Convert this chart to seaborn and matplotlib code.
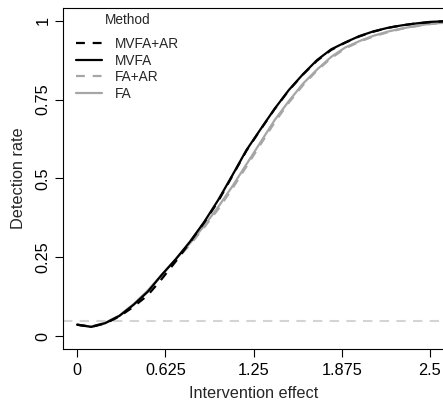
import numpy as np
import pandas as pd
import matplotlib
matplotlib.use("Agg")
import matplotlib.pyplot as plt
import seaborn as sns
from matplotlib.lines import Line2D

# ---- data ----
effect = [0.0, 0.1, 0.2, 0.3, 0.4, 0.5, 0.6, 0.7, 0.8, 0.9, 1.0, 1.1, 1.2, 1.3,
          1.4, 1.5, 1.6, 1.7, 1.8, 1.9, 2.0, 2.1, 2.2, 2.3, 2.4, 2.5, 2.6]
mvfa_ar = [0.037, 0.030, 0.041, 0.063, 0.094, 0.130, 0.182, 0.238, 0.298, 0.360,
           0.428, 0.508, 0.588, 0.655, 0.720, 0.779, 0.829, 0.873, 0.907, 0.930,
           0.950, 0.965, 0.977, 0.985, 0.991, 0.995, 0.998]
mvfa = [0.037, 0.030, 0.042, 0.065, 0.100, 0.141, 0.195, 0.245, 0.300, 0.362,
        0.432, 0.510, 0.590, 0.656, 0.721, 0.780, 0.830, 0.875, 0.909, 0.931,
        0.951, 0.966, 0.977, 0.985, 0.991, 0.996, 0.998]
fa_ar = [0.037, 0.031, 0.043, 0.066, 0.101, 0.143, 0.193, 0.241, 0.290, 0.345,
         0.403, 0.468, 0.538, 0.608, 0.678, 0.740, 0.795, 0.842, 0.881, 0.912,
         0.933, 0.950, 0.963, 0.974, 0.982, 0.989, 0.993]
fa = [0.037, 0.031, 0.043, 0.066, 0.102, 0.145, 0.195, 0.245, 0.295, 0.350,
      0.410, 0.475, 0.545, 0.615, 0.685, 0.745, 0.800, 0.845, 0.885, 0.915,
      0.935, 0.952, 0.965, 0.975, 0.983, 0.990, 0.993]
methods = ["MVFA+AR", "MVFA", "FA+AR", "FA"]
nominal_level = 0.05
x_ticks = [0, 0.625, 1.25, 1.875, 2.5]
x_tick_labels = ["0", "0.625", "1.25", "1.875", "2.5"]
y_ticks = [0, 0.25, 0.5, 0.75, 1]
y_tick_labels = ["0", "0.25", "0.5", "0.75", "1"]

df = pd.DataFrame({
    "effect": effect * 4,
    "rate": mvfa_ar + mvfa + fa_ar + fa,
    "Method": sum([[m] * len(effect) for m in methods], []),
})

sns.set_style("white")
plt.rcParams["font.family"] = ["Liberation Sans", "DejaVu Sans"]

fig = plt.figure(figsize=(4.43, 4.01), dpi=100)
ax = fig.add_axes([63 / 443, 1 - 349 / 401, (444 - 63) / 443, (349 - 8) / 401])

palette = {"MVFA+AR": "black", "MVFA": "black", "FA+AR": "#a6a6a6", "FA": "#a6a6a6"}
dashes = {"MVFA+AR": (4, 3.5), "MVFA": "", "FA+AR": (4, 3.5), "FA": ""}

ax.axhline(nominal_level, color="#d4d4d4", lw=1.5, dashes=(4.5, 3.5), zorder=1)
sns.lineplot(data=df, x="effect", y="rate", hue="Method", style="Method",
             hue_order=methods[::-1], style_order=methods[::-1],
             palette=palette, dashes=dashes, linewidth=1.6, ax=ax, legend=False)

ax.set_xlim(-0.1, 2.6)
ax.set_ylim(-0.04, 1.04)
ax.set_xticks(x_ticks)
ax.set_xticklabels(x_tick_labels)
ax.set_yticks(y_ticks)
ax.set_yticklabels(y_tick_labels, rotation=90, va="center")
ax.tick_params(axis="both", which="both", direction="out", length=6, width=0.8,
               color="black", labelsize=11.7, labelcolor="black", bottom=True, left=True)
ax.tick_params(axis="x", pad=4)
ax.tick_params(axis="y", pad=3)
ax.set_xlabel("Intervention effect", fontsize=11.7, labelpad=6)
ax.set_ylabel("Detection rate", fontsize=11.7, labelpad=7)
for s in ax.spines.values():
    s.set_visible(True)
    s.set_color("black")
    s.set_linewidth(0.8)

# legend
handles = []
for m in methods:
    d = dashes[m]
    ln = Line2D([], [], color=palette[m], lw=1.6)
    if d:
        ln.set_dashes(d)
    handles.append(ln)
leg = ax.legend(handles, methods, title="Method", loc="upper left",
                bbox_to_anchor=(0.019, 1.0), frameon=False, fontsize=9.8,
                title_fontsize=9.8, handlelength=1.9, handletextpad=1.0,
                labelspacing=0.18, borderaxespad=0.0)
leg._legend_box.sep = 7

fig.savefig("out.png", dpi=100)
